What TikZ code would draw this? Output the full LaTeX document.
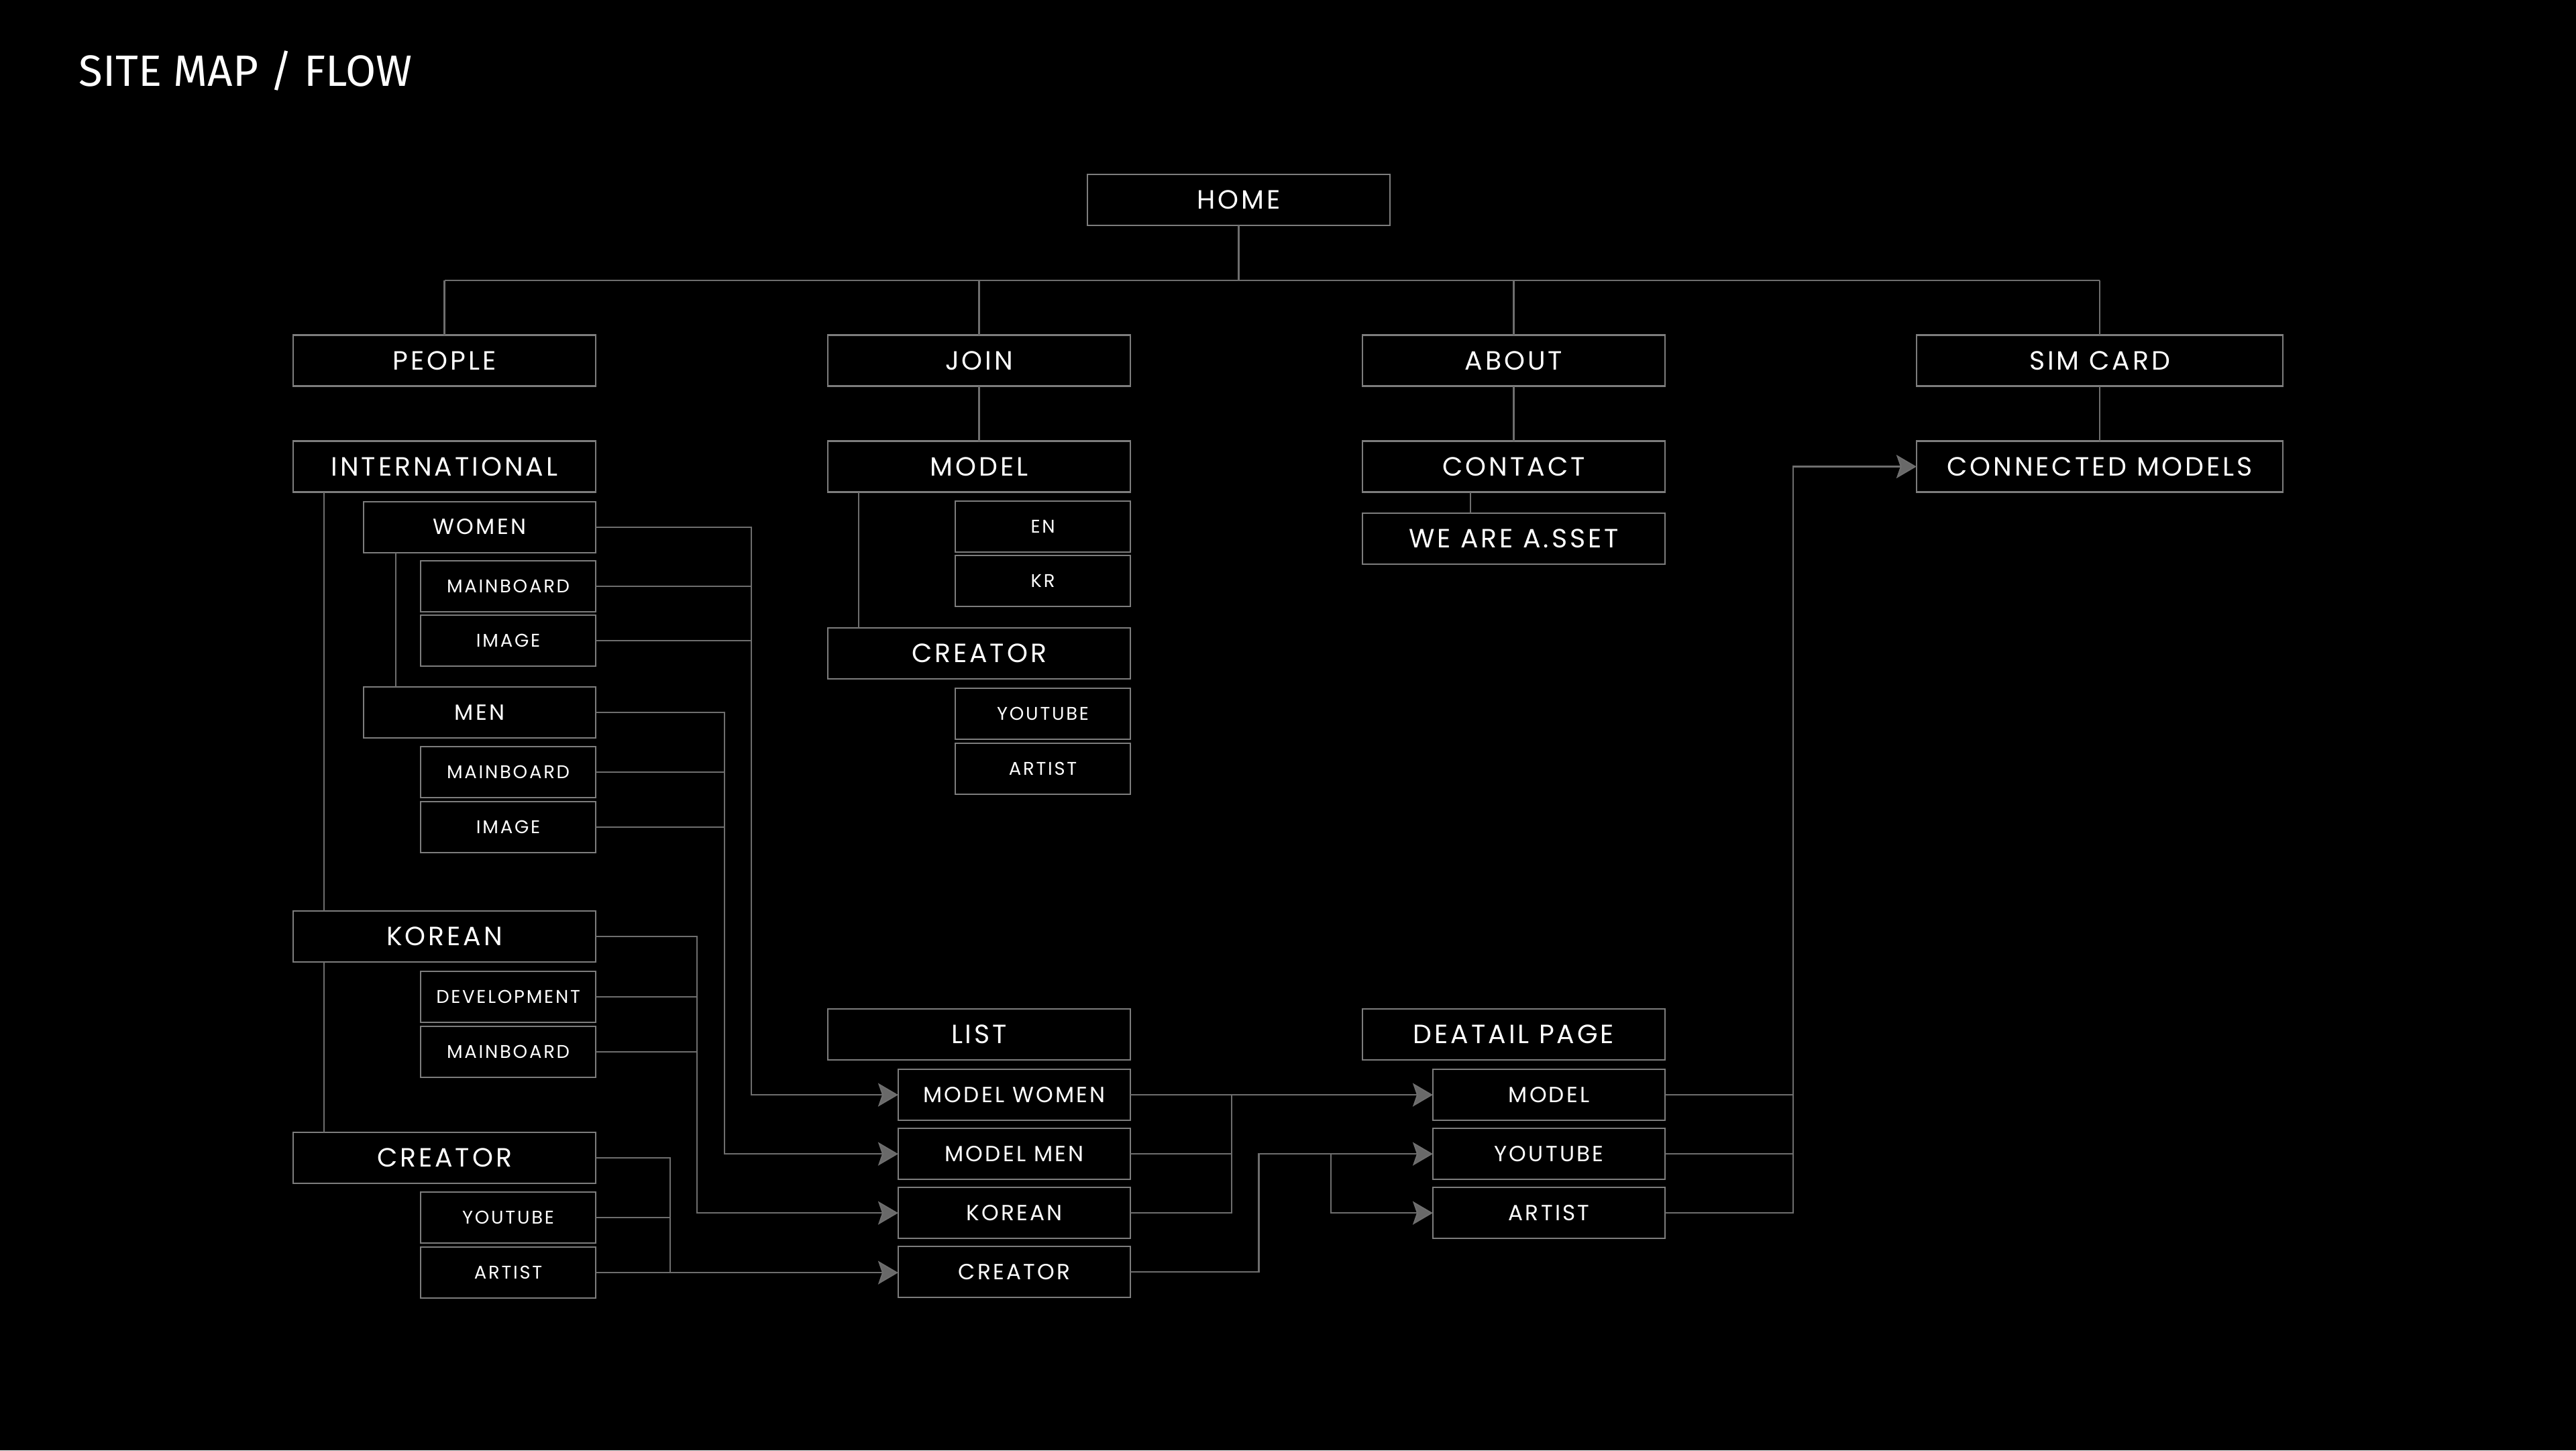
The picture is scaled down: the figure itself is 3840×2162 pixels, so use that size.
\documentclass[tikz,border=0pt]{standalone}
\usepackage{fontspec}
\usetikzlibrary{positioning}
\usetikzlibrary{arrows.meta}
\newfontfamily\fuenteCaja{Poppins}[LetterSpace=10]
\newfontfamily\fuenteTitulo{Fira Sans}
\newcommand{\letraG}{\fuenteCaja\fontsize{11.2}{13}\selectfont}
\newcommand{\letraM}{\fuenteCaja\fontsize{9.3}{11}\selectfont}
\newcommand{\letraP}{\fuenteCaja\fontsize{7.8}{9}\selectfont}
\newcommand{\letraTitulo}{\fuenteTitulo\fontsize{18.6}{22}\selectfont}
\definecolor{figFondo}{RGB}{0,0,0}
\definecolor{figBorde}{RGB}{125,125,125}
\definecolor{figLinea}{RGB}{110,110,110}
\definecolor{figFlecha}{RGB}{105,105,105}
\tikzset{
  caja/.style={
    rectangle, draw=figBorde, line width=0.6pt, fill=figFondo,
    minimum height=0.76cm, minimum width=4.51cm, inner sep=0pt, outer sep=0pt,
    text=white, font=\letraG
  },
  cajag/.style={caja, minimum width=5.46cm},
  cajam/.style={caja, minimum width=3.46cm, font=\letraM},
  cajap/.style={caja, minimum width=2.61cm, font=\letraP},
  linea/.style={draw=figLinea, line width=0.6pt},
  flecha/.style={linea, -{Stealth[length=0.30cm, width=0.35cm, inset=0.06cm, fill=figFlecha]}}
}
\begin{document}
\begin{tikzpicture}[x=0.01cm, y=-0.01cm]
  \fill[figFondo] (0,0) rectangle (3840,2162);
  \node[anchor=base west, text=white, font=\letraTitulo, inner sep=0pt] (titulo) at (117,128) {SITE MAP / FLOW};

  \node[caja] (home) at (1846.5,298) {HOME};
  \node[caja] (people) at (662.5,537.5) {PEOPLE};
  \node[caja] (join) at (1459.5,537.5) {JOIN};
  \node[caja] (about) at (2256.5,537.5) {ABOUT};
  \node[cajag] (sim) at (3130,537.5) {SIM CARD};

  \node[caja] (inter) at (662.5,695.5) {INTERNATIONAL};
  \node[cajam, below left=0.14cm and 0cm of inter.south east] (women) {WOMEN};
  \node[cajap, below left=0.12cm and 0cm of women.south east] (wmain) {MAINBOARD};
  \node[cajap, below=0.05cm of wmain] (wimg) {IMAGE};
  \node[cajam, below left=0.31cm and 0cm of wimg.south east] (men) {MEN};
  \node[cajap, below left=0.13cm and 0cm of men.south east] (mmain) {MAINBOARD};
  \node[cajap, below=0.06cm of mmain] (mimg) {IMAGE};
  \node[caja] (kor) at (662.5,1396) {KOREAN};
  \node[cajap, below left=0.14cm and 0cm of kor.south east] (kdev) {DEVELOPMENT};
  \node[cajap, below=0.06cm of kdev] (kmain) {MAINBOARD};
  \node[caja] (pcre) at (662.5,1726) {CREATOR};
  \node[cajap, below left=0.13cm and 0cm of pcre.south east] (pyou) {YOUTUBE};
  \node[cajap, below=0.06cm of pyou] (part) {ARTIST};

  \node[caja] (jmodel) at (1459.5,695.5) {MODEL};
  \node[cajap, below left=0.135cm and 0cm of jmodel.south east] (jen) {EN};
  \node[cajap, below=0.05cm of jen] (jkr) {KR};
  \node[caja, below left=0.32cm and 0cm of jkr.south east] (jcre) {CREATOR};
  \node[cajap, below left=0.14cm and 0cm of jcre.south east] (jyou) {YOUTUBE};
  \node[cajap, below=0.06cm of jyou] (jart) {ARTIST};

  \node[caja] (contact) at (2256.5,695.5) {CONTACT};
  \node[caja, below=0.31cm of contact] (weare) {WE ARE A.SSET};
  \node[cajag] (conn) at (3130,695.5) {CONNECTED MODELS};

  \node[caja] (list) at (1459.5,1542) {LIST};
  \node[cajam, below left=0.14cm and 0cm of list.south east] (lwomen) {MODEL WOMEN};
  \node[cajam, below=0.12cm of lwomen] (lmen) {MODEL MEN};
  \node[cajam, below=0.12cm of lmen] (lkor) {KOREAN};
  \node[cajam, below=0.12cm of lkor] (lcre) {CREATOR};

  \node[caja] (detail) at (2256.5,1542) {DEATAIL PAGE};
  \node[cajam, below left=0.14cm and 0cm of detail.south east] (dmodel) {MODEL};
  \node[cajam, below=0.12cm of dmodel] (dyou) {YOUTUBE};
  \node[cajam, below=0.12cm of dyou] (dart) {ARTIST};

  \coordinate (bus) at (1846.5,418);
  \draw[linea] (home) -- (bus);
  \draw[linea] (people.north |- bus) -- (sim.north |- bus);
  \foreach \n in {people,join,about,sim}
    \draw[linea] (\n.north) -- (\n.north |- bus);
  \draw[linea] (join) -- (jmodel);
  \draw[linea] (about) -- (contact);
  \draw[linea] (sim) -- (conn);

  \draw[linea] ([xshift=0.46cm]inter.south west) -- ([xshift=0.46cm]kor.north west);
  \draw[linea] ([xshift=0.46cm]kor.south west) -- ([xshift=0.46cm]pcre.north west);
  \draw[linea] ([xshift=0.48cm]women.south west) -- ([xshift=0.48cm]men.north west);
  \draw[linea] ([xshift=0.46cm]jmodel.south west) -- ([xshift=0.46cm]jcre.north west);
  \draw[linea] ([xshift=1.61cm]contact.south west) -- ([xshift=1.61cm]weare.north west);

  \coordinate (bw) at (1120,0);
  \coordinate (bm) at (1080,0);
  \coordinate (bk) at (1039,0);
  \coordinate (bc) at (999,0);
  \draw[flecha] (women.east) -| (bw |- lwomen) -- (lwomen);
  \draw[linea] (wmain.east) -- (wmain.east -| bw);
  \draw[linea] (wimg.east) -- (wimg.east -| bw);
  \draw[flecha] (men.east) -| (bm |- lmen) -- (lmen);
  \draw[linea] (mmain.east) -- (mmain.east -| bm);
  \draw[linea] (mimg.east) -- (mimg.east -| bm);
  \draw[flecha] (kor.east) -| (bk |- lkor) -- (lkor);
  \draw[linea] (kdev.east) -- (kdev.east -| bk);
  \draw[linea] (kmain.east) -- (kmain.east -| bk);
  \draw[linea] (pcre.east) -| (bc |- part.east);
  \draw[linea] (pyou.east) -- (pyou.east -| bc);
  \draw[flecha] (part.east) -- (part.east -| lcre.west);

  \coordinate (bl) at (1836,0);
  \coordinate (bcr) at (1876.5,0);
  \coordinate (ba) at (1984,0);
  \draw[flecha] (lwomen) -- (dmodel);
  \draw[linea] (lmen.east) -- (lmen.east -| bl);
  \draw[linea] (lkor.east) -| (bl |- lwomen.east);
  \draw[flecha] (lcre.east) -| (bcr |- dyou) -- (dyou);
  \draw[flecha] (ba |- dyou) |- (dart);

  \coordinate (bd) at (2673,0);
  \draw[linea] (dmodel.east) -- (dmodel.east -| bd);
  \draw[linea] (dyou.east) -- (dyou.east -| bd);
  \draw[flecha] (dart.east) -| (bd |- conn) -- (conn);
\end{tikzpicture}
\end{document}
